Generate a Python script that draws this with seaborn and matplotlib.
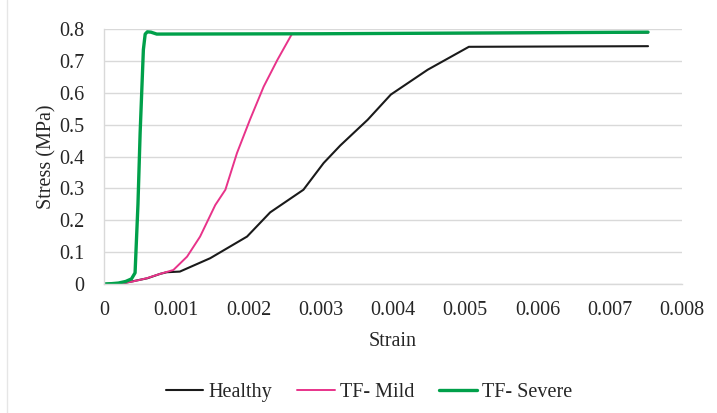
import numpy as np
import pandas as pd
import matplotlib
matplotlib.use("Agg")
import matplotlib.pyplot as plt
import seaborn as sns

healthy_x = [0, 0.0003, 0.0006, 0.00078, 0.00087, 0.00105, 0.00147, 0.00198, 0.0023, 0.00276,
             0.00304, 0.00327, 0.00365, 0.00397, 0.00448, 0.00505, 0.00753]
healthy_y = [0, 0.004, 0.018, 0.032, 0.037, 0.039, 0.081, 0.149, 0.225, 0.296,
             0.38, 0.435, 0.516, 0.595, 0.673, 0.745, 0.747]

mild_x = [0, 0.00018, 0.0004, 0.00059, 0.00078, 0.00096, 0.00115, 0.00133, 0.00154, 0.00168,
          0.00184, 0.00202, 0.00221, 0.0024, 0.0026, 0.0045, 0.00753]
mild_y = [0, 0.0, 0.008, 0.018, 0.032, 0.044, 0.086, 0.149, 0.248, 0.296,
          0.411, 0.516, 0.62, 0.704, 0.785, 0.787, 0.789]

severe_x = [0, 0.0001, 0.0002, 0.0003, 0.00038, 0.00043, 0.00047, 0.0005, 0.000545, 0.00057,
            0.0006, 0.00065, 0.00073, 0.003, 0.00753]
severe_y = [0, 0.001, 0.003, 0.008, 0.016, 0.035, 0.25, 0.474, 0.736, 0.785,
            0.792, 0.791, 0.785, 0.786, 0.791]

series = ["Healthy", "TF- Mild", "TF- Severe"]
colors = {"Healthy": "#1a1a1a", "TF- Mild": "#e8338a", "TF- Severe": "#00a04a"}
widths = {"Healthy": 1.5, "TF- Mild": 1.4, "TF- Severe": 2.4}

frames = []
for name, xs, ys in [("Healthy", healthy_x, healthy_y), ("TF- Mild", mild_x, mild_y),
                     ("TF- Severe", severe_x, severe_y)]:
    frames.append(pd.DataFrame({"Strain": xs, "Stress": ys, "Series": name}))
df = pd.concat(frames, ignore_index=True)

sns.set_theme(style="white")
plt.rcParams["font.family"] = ["Liberation Serif", "DejaVu Serif"]

FS = 14.5
fig = plt.figure(figsize=(7.17, 4.13), dpi=100)
ax = fig.add_axes([104/717, 1-284/413, (682-104)/717, (284-29.3)/413])

for name in series:
    sub = df[df["Series"] == name]
    sns.lineplot(data=sub, x="Strain", y="Stress", ax=ax, color=colors[name],
                 linewidth=widths[name], sort=False, estimator=None, label=name)

ax.set_xlim(0, 0.008)
ax.set_ylim(0, 0.8)
ax.set_xticks(np.arange(0, 0.0081, 0.001))
ax.set_xticklabels(["0", "0.001", "0.002", "0.003", "0.004", "0.005", "0.006", "0.007", "0.008"])
ax.set_yticks(np.arange(0, 0.81, 0.1))
ax.set_yticklabels(["0", "0.1", "0.2", "0.3", "0.4", "0.5", "0.6", "0.7", "0.8"])
ax.tick_params(axis="x", labelsize=FS, colors="#262626", length=0, pad=12)
ax.tick_params(axis="y", labelsize=FS, colors="#262626", length=0, pad=14)
ax.grid(axis="y", color="#d9d9d9", linewidth=1)
ax.grid(axis="x", visible=False)
ax.set_axisbelow(True)
for s in ["top", "right"]:
    ax.spines[s].set_visible(False)
for s in ["left", "bottom"]:
    ax.spines[s].set_color("#d9d9d9")
    ax.spines[s].set_linewidth(1)

ax.set_xlabel("Strain", fontsize=FS, color="#262626", labelpad=9)
ax.set_ylabel("Stress (MPa)", fontsize=FS, color="#262626", labelpad=2)

ax.legend(loc="center", bbox_to_anchor=((369 - 104) / 578, (392 - 284) / -(284 - 29.3)), ncol=3,
          frameon=False, fontsize=FS, handlelength=1.85, columnspacing=1.25, handletextpad=0.25)

fig.add_artist(plt.Line2D([7/717, 7/717], [0, 1], color="#e6e6e6", linewidth=1))

fig.savefig("out.png", dpi=100)
